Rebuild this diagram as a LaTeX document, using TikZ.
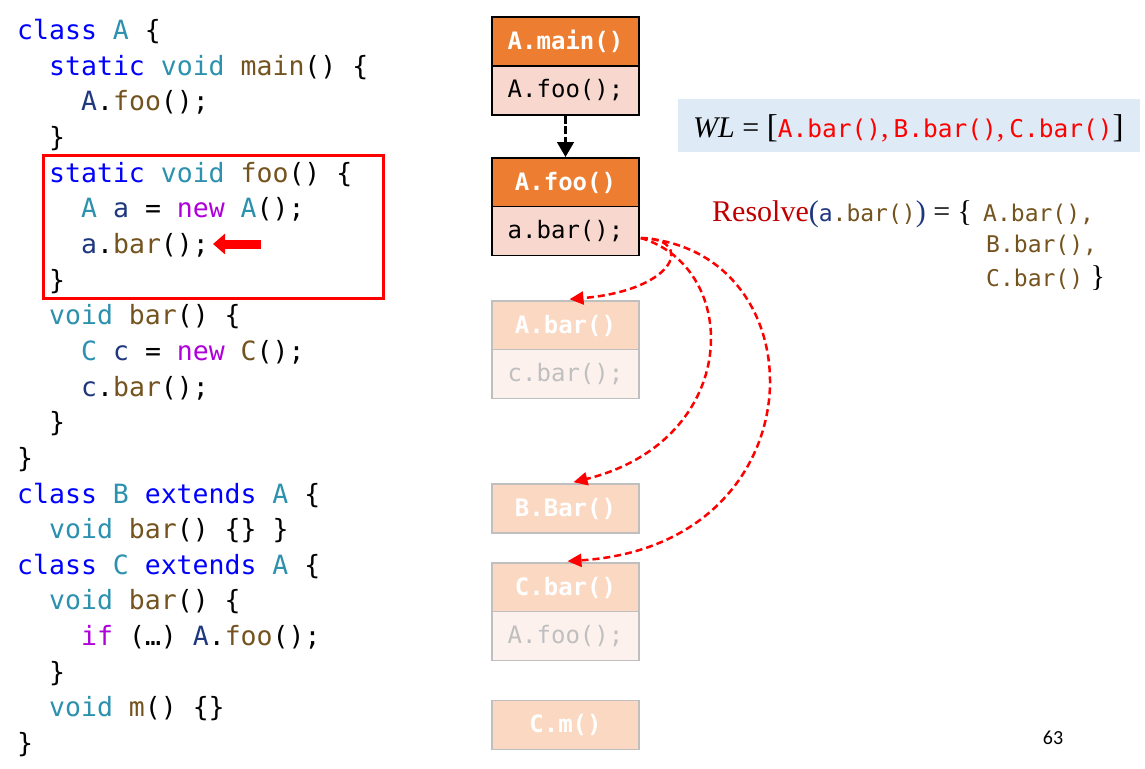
\documentclass[tikz,border=0pt]{standalone}
\usepackage{fontspec}
\setmainfont{Liberation Serif}
\setmonofont{DejaVu Sans Mono}
\newfontfamily\pagefont{Carlito}
\usetikzlibrary{arrows.meta,calc}
\definecolor{kwblue}{RGB}{0,0,255}
\definecolor{tyteal}{RGB}{43,145,175}
\definecolor{mebrown}{RGB}{116,83,31}
\definecolor{ctlpurple}{RGB}{175,0,219}
\definecolor{varnavy}{RGB}{31,55,127}
\definecolor{hdrorange}{RGB}{237,125,49}
\definecolor{bodypink}{RGB}{248,216,206}
\definecolor{fadeorange}{RGB}{251,216,193}
\definecolor{fadebody}{RGB}{253,241,238}
\definecolor{fadegray}{RGB}{191,191,191}
\definecolor{wlblue}{RGB}{222,235,247}
\definecolor{resred}{RGB}{192,0,0}
\newcommand\kw[1]{\textcolor{kwblue}{#1}}
\newcommand\ty[1]{\textcolor{tyteal}{#1}}
\newcommand\me[1]{\textcolor{mebrown}{#1}}
\newcommand\ctl[1]{\textcolor{ctlpurple}{#1}}
\newcommand\va[1]{\textcolor{varnavy}{#1}}
\newcommand\wlm{\fontsize{24.5}{28}\ttfamily}
\newcommand\rmono{\fontsize{23}{26}\ttfamily}
\newcommand\rlist{\fontsize{23}{26}\ttfamily}
\tikzset{
  codeline/.style={anchor=base west, inner sep=0pt, font=\fontsize{26.5}{30}\ttfamily},
  boxbase/.style={minimum width=147pt, minimum height=49pt, inner sep=0pt, line width=1.6pt},
  hdr/.style={boxbase, draw=black, fill=hdrorange, text=white, font=\fontsize{24}{27}\ttfamily\bfseries},
  bdy/.style={boxbase, draw=black, fill=bodypink, text=black, font=\fontsize{24}{27}\ttfamily},
  fhdr/.style={boxbase, draw=fadegray, fill=fadeorange, text=white, font=\fontsize{24}{27}\ttfamily\bfseries},
  fbdy/.style={boxbase, draw=fadegray, fill=fadebody, text=fadegray, font=\fontsize{24}{27}\ttfamily},
  calldash/.style={draw=black, line width=3.8pt, dash pattern=on 8pt off 2.5pt, -{Triangle[length=15pt,width=16pt]}},
  reddash/.style={draw=red, line width=2.5pt, dash pattern=on 7pt off 4pt, -{Triangle[length=14pt,width=13pt]}},
  hilite/.style={draw=red, line width=3pt},
  pointer/.style={draw=red, line width=9pt, -{Triangle[length=12pt,width=20pt]}},
  txt/.style={anchor=base west, inner sep=0pt},
}
\begin{document}
\begin{tikzpicture}[x=1pt,y=-1pt]
\useasboundingbox (0,0) rectangle (1145,768);
\fill[white] (0,0) rectangle (1145,768);

% code
\node[codeline] (l0)  at (17,39.5)  {\kw{class} \ty{A} \{};
\node[codeline] (l1)  at (49,75.2)  {\kw{static} \ty{void} \me{main}() \{};
\node[codeline] (l2)  at (81,110.8) {\va{A}.\me{foo}();};
\node[codeline] (l3)  at (49,146.5) {\}};
\node[codeline] (l4)  at (49,182.1) {\kw{static} \ty{void} \me{foo}() \{};
\node[codeline] (l5)  at (81,217.8) {\ty{A} \va{a} = \ctl{new} \ty{A}();};
\node[codeline] (l6)  at (81,253.4) {\va{a}.\me{bar}();};
\node[codeline] (l7)  at (49,289.1) {\}};
\node[codeline] (l8)  at (49,324.7) {\ty{void} \me{bar}() \{};
\node[codeline] (l9)  at (81,360.4) {\ty{C} \va{c} = \ctl{new} \me{C}();};
\node[codeline] (l10) at (81,396.0) {\va{c}.\me{bar}();};
\node[codeline] (l11) at (49,431.7) {\}};
\node[codeline] (l12) at (17,467.3) {\}};
\node[codeline] (l13) at (17,503.0) {\kw{class} \ty{B} \kw{extends} \ty{A} \{};
\node[codeline] (l14) at (49,538.6) {\ty{void} \me{bar}() \{\} \}};
\node[codeline] (l15) at (17,574.3) {\kw{class} \ty{C} \kw{extends} \ty{A} \{};
\node[codeline] (l16) at (49,609.9) {\ty{void} \me{bar}() \{};
\node[codeline] (l17) at (81,645.6) {\ctl{if} (…) \va{A}.\me{foo}();};
\node[codeline] (l18) at (49,681.2) {\}};
\node[codeline] (l19) at (49,716.9) {\ty{void} \me{m}() \{\}};
\node[codeline] (l20) at (17,752.5) {\}};

% highlight box and pointer
\draw[hilite] (43,155) rectangle (383,298);
\coordinate (ptail) at (261,244);
\coordinate (ptip) at (213,244);
\draw[pointer] (ptail) -- (ptip);

% call stack boxes
\node[hdr] (mainH) at (565.5,41.5) {A.main()};
\node[bdy] (mainB) at (565.5,90.5) {A.foo();};
\node[hdr] (fooH)  at (565.5,182.5) {A.foo()};
\node[bdy] (fooB)  at (565.5,231) {a.bar();};
\node[fhdr] (abarH) at (565.5,325.5) {A.bar()};
\node[fbdy] (abarB) at (565.5,374) {c.bar();};
\node[fhdr] (bbarH) at (565.5,508.5) {B.Bar()};
\node[fhdr] (cbarH) at (565.5,587.5) {C.bar()};
\node[fbdy] (cbarB) at (565.5,636) {A.foo();};
\node[fhdr] (cmH)   at (565.5,725) {C.m()};

\draw[calldash] (mainB.south) -- (fooH.north);

\coordinate (src) at ($(fooB.east)+(1,7)$);
\draw[reddash] (src) .. controls (695,238) and (678,290) .. ($(abarH.north)+(4,-1)$);
\draw[reddash] (src) .. controls (742,268) and (742,440) .. ($(bbarH.north)+(8,-1)$);
\draw[reddash] (src) .. controls (822,250) and (822,545) .. ($(cbarH.north)+(2,-1)$);

% worklist
\node[fill=wlblue, minimum width=462pt, minimum height=53pt, inner sep=0pt] (wl) at (909,125.5) {};
\node[txt, font=\fontsize{30}{36}\selectfont] (wltext) at (693,137)
  {\textit{WL} = {\fontsize{33}{36}\selectfont[}\textcolor{red}{{\wlm A.bar()},\hspace{5pt}{\wlm B.bar()},\hspace{5pt}{\wlm C.bar()}}{\fontsize{33}{36}\selectfont]}};

% resolve
\node[txt, font=\fontsize{30}{36}\selectfont] (resolve) at (712,221)
  {\textcolor{resred}{Resolve}\textcolor{varnavy}{(}{\rmono\va{a}\me{.bar()}}\textcolor{varnavy}{)} = \{};
\node[txt, font=\rlist, text=mebrown] (r1) at (983,221) {A.bar(),};
\node[txt, font=\rlist, text=mebrown] (r2) at (986,252) {B.bar(),};
\node[txt, font=\fontsize{30}{36}\selectfont] (r3) at (986,286) {{\rlist\me{C.bar()}}~\}};

% page number
\node[font=\pagefont\fontsize{20}{24}\selectfont, inner sep=0pt] (pg) at (1053,738) {63};
\end{tikzpicture}
\end{document}
